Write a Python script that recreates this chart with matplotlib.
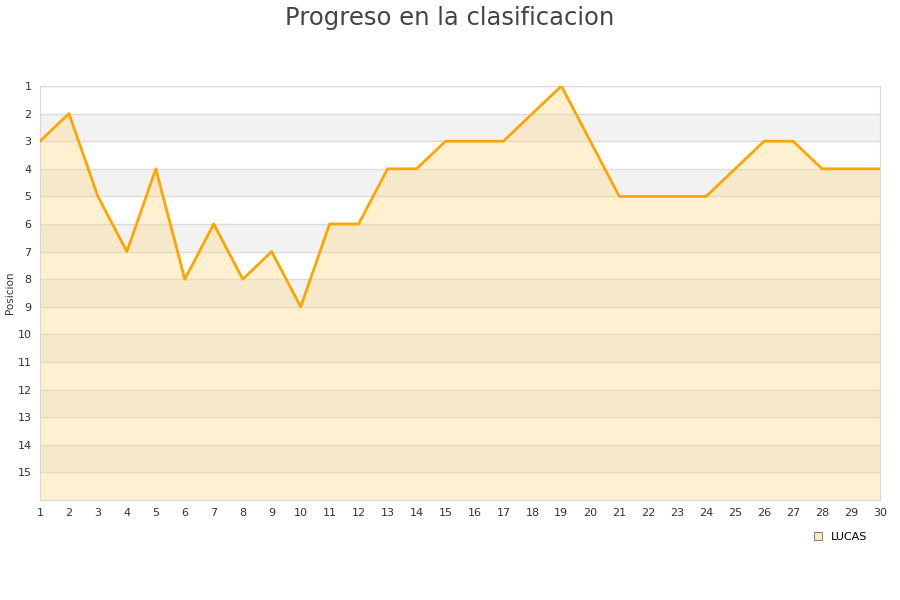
import numpy as np
from matplotlib import pyplot as plt
from matplotlib.patches import Patch

jornadas = list(range(1, 31))
posicion = [3, 2, 5, 7, 4, 8, 6, 8, 7, 9, 6, 6, 4, 4, 3, 3, 3, 2, 1, 3,
            5, 5, 5, 5, 4, 3, 3, 4, 4, 4]
y_ticks = list(range(1, 16))
jugador = "LUCAS"

fig = plt.figure(figsize=(9, 6), dpi=100)
ax = fig.add_axes([40 / 900, 100 / 600, 840 / 900, 414 / 600])

# bandas alternas
for k in range(2, 16, 2):
    ax.axhspan(k, k + 1, color="#f2f2f2", zorder=0, lw=0)
for k in y_ticks:
    ax.axhline(k, color="#dcdcdc", lw=1, zorder=1)

ax.fill_between(jornadas, posicion, 16, color="#ffd680", alpha=0.35, lw=0, zorder=2)
ax.plot(jornadas, posicion, color="#ffa500", lw=2, zorder=3)

ax.set_xlim(1, 30)
ax.set_ylim(16, 1)
ax.set_xticks(jornadas)
ax.set_yticks(y_ticks)
ax.tick_params(length=0, labelsize=8, colors="#333333", pad=6)
for s in ax.spines.values():
    s.set_color("#d8d8d8")
ax.set_ylabel("Posicion", fontsize=7.5, color="#333333")
ax.yaxis.set_label_coords(-25 / 840, 0.5)

fig.suptitle("Progreso en la clasificacion", fontsize=17.5, color="#444444", y=0.99)

handle = Patch(facecolor="#ffe9c4", edgecolor="#888888", lw=0.8)
fig.legend([handle], [jugador], loc="lower right", bbox_to_anchor=(0.975, 0.08),
           frameon=False, fontsize=8, handlelength=0.7, handleheight=0.7)

plt.savefig("out.png")
